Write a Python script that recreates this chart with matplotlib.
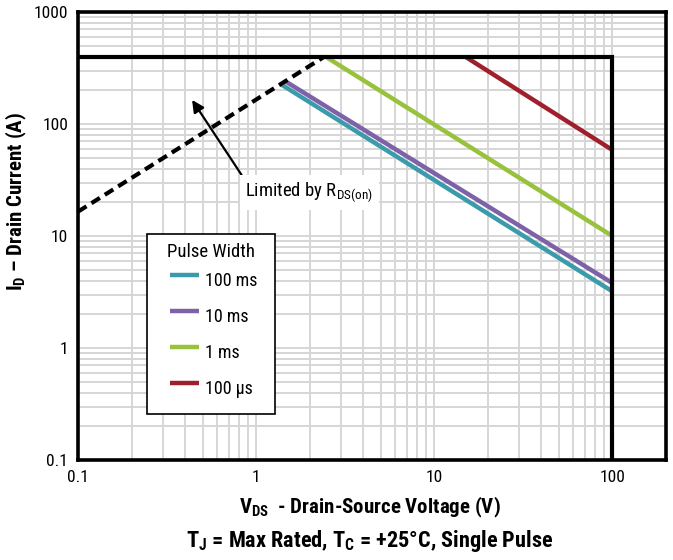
import matplotlib
matplotlib.use("Agg")
import matplotlib.pyplot as plt
from matplotlib import font_manager
from matplotlib.legend_handler import HandlerLine2D
from matplotlib.lines import Line2D
from matplotlib.ticker import LogLocator, FixedLocator, FixedFormatter, NullFormatter

available = {f.name for f in font_manager.fontManager.ttflist}
candidates = ['Liberation Sans Narrow', 'DejaVu Sans Condensed', 'Roboto Condensed',
              'Open Sans Condensed', 'Noto Sans Condensed', 'Liberation Sans']
FONT = next((c for c in candidates if c in available), 'DejaVu Sans')

plt.rcParams['font.family'] = [FONT, 'DejaVu Sans']
plt.rcParams['mathtext.fontset'] = 'custom'
plt.rcParams['mathtext.rm'] = FONT
plt.rcParams['mathtext.bf'] = FONT + ':bold'
plt.rcParams['mathtext.it'] = FONT + ':italic'

# ---- data ----
rds_v = [0.1, 2.42]
rds_i = [16.5, 400]
box_v = [0.1, 100, 100]
box_i = [400, 400, 0.1]

series_labels = ['100 ms', '10 ms', '1 ms', '100 µs']
v_100ms = [1.38, 100]
i_100ms = [226, 3.2]
v_10ms = [1.45, 100]
i_10ms = [242, 3.8]
v_1ms = [2.45, 100]
i_1ms = [400, 10]
v_100us = [14.9, 100]
i_100us = [400, 58.6]

x_ticks = [0.1, 1, 10, 100]
x_tick_labels = ['0.1', '1', '10', '100']
y_ticks = [0.1, 1, 10, 100, 1000]
y_tick_labels = ['0.1', '1', '10', '100', '1000']

colors = ['#3c9bab', '#7e62a8', '#98c23c', '#a01f2c']

narrow = FONT not in ('Liberation Sans', 'DejaVu Sans')
k = 1.0 if narrow else 0.85


class OffsetLineHandler(HandlerLine2D):
    """Legend line drawn only in the right part of the handle box."""
    def __init__(self, frac=0.7, **kw):
        super().__init__(**kw)
        self.frac = frac

    def create_artists(self, legend, orig_handle, xdescent, ydescent, width, height,
                       fontsize, trans):
        arts = super().create_artists(legend, orig_handle, xdescent, ydescent, width,
                                      height, fontsize, trans)
        for a in arts:
            if isinstance(a, Line2D):
                xd = list(a.get_xdata())
                yd = list(a.get_ydata())
                if len(xd) >= 2 and len(yd) >= 1:
                    x1 = xd[-1]
                    x0 = x1 - self.frac * (x1 - xd[0])
                    a.set_data([x0, x1], [yd[0], yd[0]])
                    a.set_solid_capstyle('butt')
        return arts


fig = plt.figure(figsize=(6.73, 5.60), dpi=100)
ax = fig.add_axes([78/673, 100/560, 588/673, 448/560])
ax.set_xscale('log')
ax.set_yscale('log')
ax.set_xlim(0.1, 200)
ax.set_ylim(0.1, 1000)

ax.xaxis.set_major_locator(FixedLocator(x_ticks))
ax.xaxis.set_major_formatter(FixedFormatter(x_tick_labels))
ax.yaxis.set_major_locator(FixedLocator(y_ticks))
ax.yaxis.set_major_formatter(FixedFormatter(y_tick_labels))
ax.xaxis.set_minor_locator(LogLocator(base=10, subs=range(2, 10), numticks=20))
ax.yaxis.set_minor_locator(LogLocator(base=10, subs=range(2, 10), numticks=20))
ax.xaxis.set_minor_formatter(NullFormatter())
ax.yaxis.set_minor_formatter(NullFormatter())
ax.tick_params(which='both', length=0, labelsize=12.5 * k)
ax.tick_params(axis='x', pad=7)
ax.tick_params(axis='y', pad=7)
ax.grid(True, which='both', color='#d6d6d6', linewidth=1.4, zorder=0)
ax.set_axisbelow(True)
for s in ax.spines.values():
    s.set_linewidth(2.6)

series = [(v_100ms, i_100ms), (v_10ms, i_10ms), (v_1ms, i_1ms), (v_100us, i_100us)]
handles = []
for (v, i), c, lab in zip(series, colors, series_labels):
    h, = ax.plot(v, i, color=c, linewidth=3.2, label=lab, zorder=3, solid_capstyle='butt')
    handles.append(h)

ax.plot(rds_v, rds_i, color='black', linewidth=3.0, linestyle=(0, (2.4, 1.4)), zorder=4)
ax.plot(box_v, box_i, color='black', linewidth=3.0, zorder=5, solid_joinstyle='miter')

ax.annotate(r'Limited by R$_\mathrm{DS(on)}$', xy=(0.437, 164), xytext=(0.87, 24.5),
            fontsize=13.5 * k, ha='left', va='center',
            bbox=dict(facecolor='white', edgecolor='none', pad=4),
            arrowprops=dict(arrowstyle='-|>', color='black', lw=1.6,
                            mutation_scale=18, shrinkA=0, shrinkB=0,
                            relpos=(0.0, 1.0)),
            zorder=6)

legend_labels = [series_labels[0] + '  '] + series_labels[1:]
leg = ax.legend(handles, legend_labels, title='Pulse Width', loc='upper left',
                bbox_to_anchor=(0.117, 0.504), borderaxespad=0,
                fontsize=13 * k, title_fontsize=13.5 * k, frameon=True, fancybox=False,
                edgecolor='black', framealpha=1, labelspacing=0.18,
                handlelength=2.4, handleheight=2.4, handletextpad=0.35, borderpad=0.5,
                handler_map={Line2D: OffsetLineHandler(frac=0.68)})
leg.get_frame().set_linewidth(1.2)
leg.set_zorder(7)

ax.set_xlabel(r'V$_\mathbf{DS}$  - Drain-Source Voltage (V)', fontsize=15 * k, fontweight='bold')
ax.xaxis.set_label_coords(0.497, -0.078)
ax.set_ylabel(r'I$_\mathbf{D}$ – Drain Current (A)', fontsize=15 * k, fontweight='bold')
ax.yaxis.set_label_coords(-0.083, 0.576)

fig.text(370/673, 1 - 541/560, r'T$_\mathbf{J}$ = Max Rated, T$_\mathbf{C}$ = +25°C, Single Pulse',
         fontsize=16 * k, fontweight='bold', ha='center', va='center')

fig.savefig('out.png', dpi=100)
